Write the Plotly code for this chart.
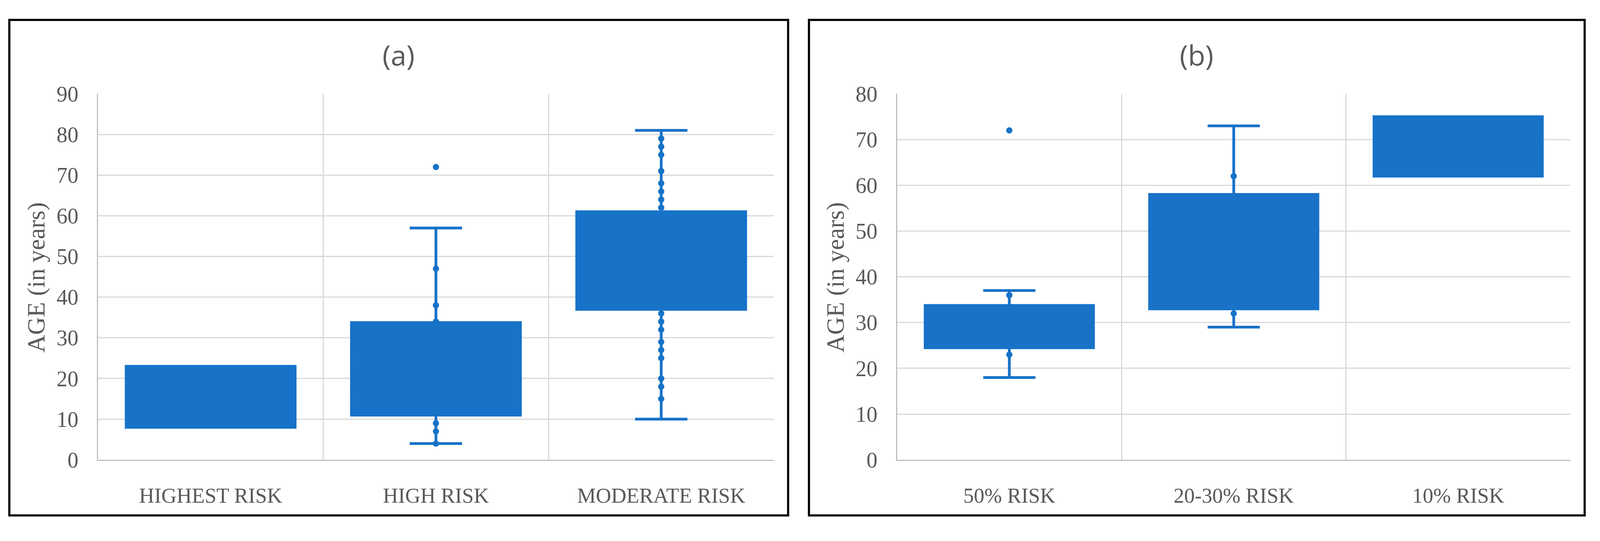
import plotly.graph_objects as go

# ---------------- data ----------------
cats_a = ["HIGHEST RISK", "HIGH RISK", "MODERATE RISK"]
q1_a = [8, 11, 37]
med_a = [15.5, 24.5, 50]
q3_a = [23, 33.75, 61]
low_a = [8, 4, 10]
high_a = [23, 57, 81]
pts_a_highest = []
pts_a_high = [72, 47, 38, 34, 9, 7, 4]
pts_a_moderate = [79, 77, 75, 71, 68, 66, 64, 62, 36, 34, 32, 29, 27, 25, 20, 18, 15]

cats_b = ["50% RISK", "20-30% RISK", "10% RISK"]
q1_b = [24.5, 33, 62]
med_b = [30.5, 54, 68.5]
q3_b = [33.75, 58, 75]
low_b = [18, 29, 62]
high_b = [37, 73, 75]
pts_b_50 = [72, 36, 23]
pts_b_2030 = [62, 32]
pts_b_10 = []

ticks_a = [0, 10, 20, 30, 40, 50, 60, 70, 80, 90]
ticks_b = [0, 10, 20, 30, 40, 50, 60, 70, 80]

# ---------------- style ----------------
REF_W, REF_H = 4375, 1385      # reference geometry (used for paper fractions)
W, H = 4096, 1385              # actual browser viewport
BLUE = "#1772C8"
TXT = "#595959"
GRID = "#d9d9d9"
AXL = "#bfbfbf"
SERIF = "Liberation Serif"
SANS = "Open Sans"

def px_x(p):
    return p / REF_W

def px_y(p):
    return 1 - p / REF_H

fig = go.Figure()

def add_panel(cats, q1, med, q3, lo, hi, pts_lists, xa, ya):
    fig.add_trace(go.Box(
        x=cats, q1=q1, median=med, q3=q3, lowerfence=lo, upperfence=hi,
        fillcolor=BLUE, line=dict(color=BLUE, width=7),
        whiskerwidth=0.31, boxpoints=False, showlegend=False,
        xaxis=xa, yaxis=ya, hoverinfo="skip",
    ))
    xs, ys = [], []
    for c, pl in zip(cats, pts_lists):
        for v in pl:
            xs.append(c)
            ys.append(v)
    fig.add_trace(go.Scatter(
        x=xs, y=ys, mode="markers",
        marker=dict(color=BLUE, size=16, line=dict(width=0)),
        showlegend=False, xaxis=xa, yaxis=ya, hoverinfo="skip",
    ))

add_panel(cats_a, q1_a, med_a, q3_a, low_a, high_a,
          [pts_a_highest, pts_a_high, pts_a_moderate], "x", "y")
add_panel(cats_b, q1_b, med_b, q3_b, low_b, high_b,
          [pts_b_50, pts_b_2030, pts_b_10], "x2", "y2")

ydom = [px_y(1201), px_y(220)]

xaxis_common = dict(
    type="category", tickson="boundaries", showgrid=True, gridcolor=GRID,
    gridwidth=3, showline=True, linecolor=AXL, linewidth=3, ticks="",
    tickfont=dict(family=SERIF, size=54, color=TXT), ticklabelstandoff=42,
    zeroline=False, fixedrange=True,
)
yaxis_common = dict(
    showgrid=True, gridcolor=GRID, gridwidth=3, showline=True, linecolor=AXL,
    linewidth=3, ticks="", tickfont=dict(family=SERIF, size=56, color=TXT),
    ticklabelstandoff=36, zeroline=False, fixedrange=True,
)

fig.update_layout(
    width=W, height=H,
    margin=dict(l=0, r=0, t=0, b=0),
    paper_bgcolor="white", plot_bgcolor="white",
    boxgap=0.25, boxgroupgap=0,
    xaxis=dict(domain=[px_x(268), px_x(2116)], anchor="y",
               categoryorder="array", categoryarray=cats_a, **xaxis_common),
    yaxis=dict(domain=ydom, anchor="x", range=[0, 90], tickvals=ticks_a, **yaxis_common),
    xaxis2=dict(domain=[px_x(2453), px_x(4294)], anchor="y2",
                categoryorder="array", categoryarray=cats_b, **xaxis_common),
    yaxis2=dict(domain=ydom, anchor="x2", range=[0, 80], tickvals=ticks_b, **yaxis_common),
    shapes=[
        dict(type="rect", xref="paper", yref="paper",
             x0=px_x(25.5), x1=px_x(2155), y0=px_y(1350), y1=px_y(22),
             line=dict(color="black", width=5.5), fillcolor="rgba(0,0,0,0)", layer="above"),
        dict(type="rect", xref="paper", yref="paper",
             x0=px_x(2212), x1=px_x(4333), y0=px_y(1350), y1=px_y(22),
             line=dict(color="black", width=5.5), fillcolor="rgba(0,0,0,0)", layer="above"),
    ],
    annotations=[
        dict(text="(a)", x=px_x(1090), y=px_y(115), xref="paper", yref="paper",
             xanchor="center", yanchor="middle",
             showarrow=False, font=dict(family=SANS, size=72, color=TXT)),
        dict(text="(b)", x=px_x(3272), y=px_y(115), xref="paper", yref="paper",
             xanchor="center", yanchor="middle",
             showarrow=False, font=dict(family=SANS, size=72, color=TXT)),
        dict(text="AGE (in years)", x=px_x(100), y=px_y(712), xref="paper", yref="paper",
             xanchor="center", yanchor="middle",
             showarrow=False, textangle=-90, font=dict(family=SERIF, size=63, color=TXT)),
        dict(text="AGE (in years)", x=px_x(2285), y=px_y(712), xref="paper", yref="paper",
             xanchor="center", yanchor="middle",
             showarrow=False, textangle=-90, font=dict(family=SERIF, size=63, color=TXT)),
    ],
)

post = "document.body.style.margin='0'; document.body.style.overflow='hidden';"
fig.write_html("out.html", config={"displayModeBar": False}, post_script=post)
